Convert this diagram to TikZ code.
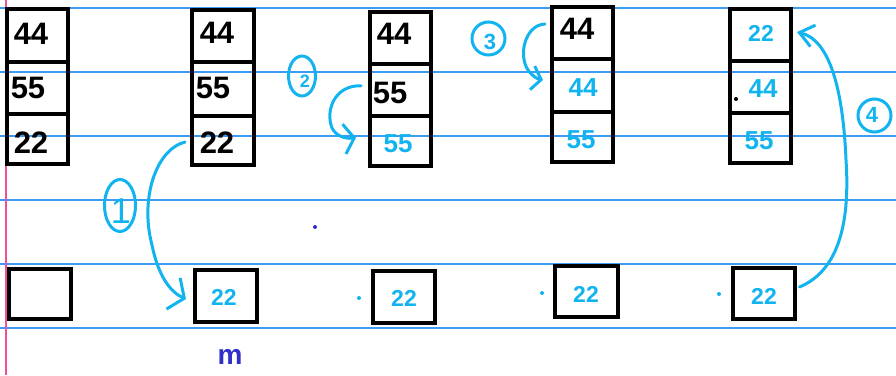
\documentclass[tikz,border=0pt]{standalone}
\usepackage{fontspec}
\setmainfont{Liberation Sans}
\usetikzlibrary{arrows.meta,shapes.geometric,calc}
\definecolor{ruled}{HTML}{3C9BF2}
\definecolor{ink}{HTML}{12B4F0}
\definecolor{marginpink}{HTML}{F2509A}
\definecolor{pen}{HTML}{3030C8}
\begin{document}
\begin{tikzpicture}[x=1pt,y=-1pt,
  cell/.style={draw=black, line width=4pt, inner sep=0pt, minimum width=61pt},
  blk/.style={inner sep=0pt, font=\bfseries\fontsize{31}{31}\selectfont, text=black},
  blu/.style={inner sep=0pt, font=\bfseries\fontsize{26}{26}\selectfont, text=ink},
  sml/.style={inner sep=0pt, font=\bfseries\fontsize{23}{23}\selectfont, text=ink},
  hand/.style={draw=ink, line width=3pt, line cap=round, line join=round},
  circnum/.style={draw=ink, line width=3pt, inner sep=0pt},
  numtxt/.style={inner sep=0pt, text=ink},
  rule/.style={draw=ruled, line width=1.3pt}
]
\fill[white] (0,0) rectangle (896,375);
\useasboundingbox (0,0) rectangle (896,375);
% ruled paper
\foreach \yy in {8,72,136,200,264,328} \draw[rule] (0,\yy) -- (896,\yy);
\draw[marginpink, line width=2pt] (6,0) -- (6,375);

% column 1
\node[cell, minimum height=53pt] (c1a) at (37,35) {};
\node[cell, minimum height=52pt] (c1b) at (37,87.5) {};
\node[cell, minimum height=50pt] (c1c) at (37,139) {};
\node[blk] (t1a) at (31,34) {44};
\node[blk] (t1b) at (28,88) {55};
\node[blk] (t1c) at (31,143) {22};
% column 2
\node[cell, minimum width=62pt, minimum height=52.5pt] (c2a) at (222.5,35.75) {};
\node[cell, minimum width=62pt, minimum height=53.5pt] (c2b) at (222.5,88.75) {};
\node[cell, minimum width=62pt, minimum height=49pt] (c2c) at (222.5,140) {};
\node[blk] (t2a) at (217,33) {44};
\node[blk] (t2b) at (213,88) {55};
\node[blk] (t2c) at (217,143) {22};
% column 3
\node[cell, minimum height=52pt] (c3a) at (400,37.5) {};
\node[cell, minimum height=52.5pt] (c3b) at (400,89.75) {};
\node[cell, minimum height=49.5pt] (c3c) at (400,140.75) {};
\node[blk] (t3a) at (394,34) {44};
\node[blk] (t3b) at (390,93) {55};
\node[blu] (t3c) at (398,144) {55};
% column 4
\node[cell, minimum height=52pt] (c4a) at (582,32.5) {};
\node[cell, minimum height=53pt] (c4b) at (582,85) {};
\node[cell, minimum height=50pt] (c4c) at (582,136.5) {};
\node[blk] (t4a) at (577,29) {44};
\node[blu] (t4b) at (583,88) {44};
\node[blu] (t4c) at (581,140) {55};
% column 5
\node[cell, minimum height=52pt] (c5a) at (760,34.5) {};
\node[cell, minimum height=52.5pt] (c5b) at (760,86.75) {};
\node[cell, minimum height=49.5pt] (c5c) at (760,137.75) {};
\node[sml] (t5a) at (761,33) {22};
\node[blu] (t5b) at (763,89) {44};
\node[blu] (t5c) at (759,141) {55};

% bottom row
\node[cell, minimum width=62pt, minimum height=50pt] (b1) at (39.5,293.5) {};
\node[cell, minimum width=62pt, minimum height=52pt] (b2) at (225.5,295.5) {};
\node[cell, minimum width=62pt, minimum height=52pt] (b3) at (403.5,296.5) {};
\node[cell, minimum width=63pt, minimum height=51pt] (b4) at (586,291) {};
\node[cell, minimum width=62pt, minimum height=51pt] (b5) at (763.5,293) {};
\node[sml] (u2) at (224,297) {22};
\node[sml] (u3) at (404,298) {22};
\node[sml] (u4) at (586,294) {22};
\node[sml] (u5) at (764,296) {22};

% circled step numbers
\node[circnum, ellipse, minimum width=31pt, minimum height=52pt] (n1) at (120,205.5) {};
\node[numtxt, font=\fontsize{36}{36}\selectfont] (d1) at (121,211) {1};
\node[circnum, ellipse, minimum width=27pt, minimum height=40pt] (n2) at (302,76) {};
\node[numtxt, font=\bfseries\fontsize{18}{18}\selectfont] (d2) at (305,81) {2};
\node[circnum, circle, minimum size=33pt] (n3) at (488.5,38.5) {};
\node[numtxt, font=\bfseries\fontsize{22}{22}\selectfont] (d3) at (490,42) {3};
\node[circnum, circle, minimum size=33pt] (n4) at (874.5,115.5) {};
\node[numtxt, font=\bfseries\fontsize{22}{22}\selectfont] (d4) at (872,115) {4};

% arrows
\draw[hand, -{Straight Barb[length=12pt,width=34pt]}]
  ([shift={(-4.5,2)}]c2c.west) .. controls (155,150) and (140,200) .. (152,245)
  .. controls (158,275) and (170,292) .. ([shift={(-6.5,3.5)}]b2.west);
\draw[hand, -{Straight Barb[length=10pt,width=30pt]}]
  ([shift={(-6.5,-4)}]c3b.west) .. controls (335,85) and (325,110) .. (332,128)
  .. controls (336,136) and (345,139) .. ([shift={(-11.5,-3)}]c3c.west);
\draw[hand, -{Straight Barb[length=9pt,width=24pt]}]
  ([shift={(-4.5,-8.5)}]c4a.west) .. controls (525,25) and (518,55) .. (528,70)
  .. controls (533,77) and (538,79) .. ([shift={(-6.5,-5)}]c4b.west);
\draw[hand, -{Straight Barb[length=14pt,width=22pt]}]
  ([shift={(3,-6)}]b5.east) .. controls (840,270) and (850,220) .. (846,160)
  .. controls (843,90) and (830,40) .. ([shift={(4.5,-2.5)}]c5a.east);

% stray dots and mark
\fill[pen] (315,227) circle (2);
\fill[ink] (359,298) circle (2);
\fill[ink] (542,293) circle (2);
\fill[ink] (719,294) circle (2);
\fill[black] (736,99) circle (2);
\node[inner sep=0pt, text=pen, font=\bfseries\fontsize{28}{28}\selectfont] (m) at (230,357) {m};
\end{tikzpicture}
\end{document}
